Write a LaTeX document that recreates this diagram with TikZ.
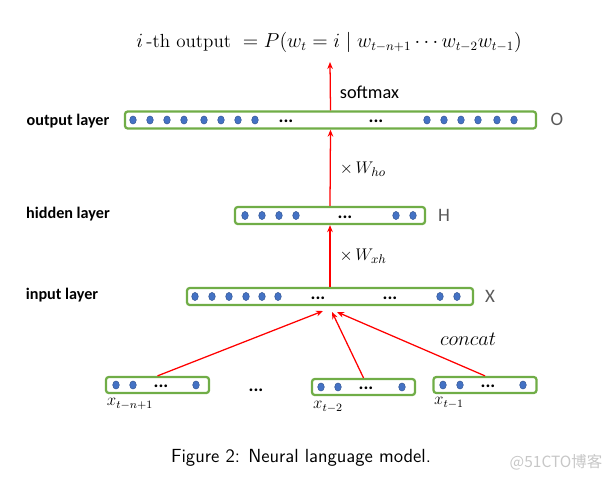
\documentclass[tikz,border=0pt]{standalone}
\usepackage{fontspec}
\usetikzlibrary{arrows.meta,shapes.geometric}
\newfontfamily\carlito{Carlito}
\newfontfamily\cjk{Noto Sans CJK SC}
\definecolor{boxgreen}{RGB}{112,173,71}
\definecolor{dotblue}{RGB}{68,114,196}
\definecolor{dotedge}{RGB}{47,82,143}
\definecolor{labgray}{RGB}{89,89,89}

\begin{document}
\begin{tikzpicture}[x=0.025cm,y=-0.025cm]
        \tikzset{layer/.style={draw=boxgreen,line width=1.6pt,rounded corners=2pt,inner sep=0pt},
            unit/.style={ellipse,fill=dotblue,draw=dotedge,line width=0.3pt,
                minimum width=4.7pt,minimum height=5.8pt,inner sep=0pt},
            gap/.style={font=\carlito\bfseries\fontsize{13}{15}\selectfont,inner sep=0pt,anchor=base},
            layername/.style={font=\carlito\bfseries\fontsize{11.5}{13}\selectfont},
            letter/.style={font=\carlito\fontsize{13.5}{15}\selectfont,text=labgray},
            link/.style={draw=red,line width=0.9pt,-{Stealth[length=5pt,width=4pt]}}}
        \useasboundingbox (0,0) rectangle (616,481);
        % layers
        \node[layer,minimum width=10.275cm,minimum height=0.425cm] (out) at (330.5,120) {};
        \node[layer,minimum width=4.75cm,minimum height=0.425cm] (hid) at (330,215.5) {};
        \node[layer,minimum width=7.15cm,minimum height=0.425cm] (inp) at (330,296.5) {};
        \node[layer,minimum width=2.575cm,minimum height=0.4cm] (xa) at (157.5,385) {};
        \node[layer,minimum width=2.575cm,minimum height=0.4cm] (xb) at (363.5,387) {};
        \node[layer,minimum width=2.575cm,minimum height=0.4cm] (xc) at (485,385) {};
        % units
        \foreach \x in {133,150,167,184,204,221,238,255,427,444,461,478,497,514}
            \node[unit] at (\x,120) {};
        \foreach \x in {245,262,279,296,396,413}
            \node[unit] at (\x,215.5) {};
        \foreach \x in {195,212,229,246,262,278,440,457}
            \node[unit] at (\x,296.5) {};
        \foreach \x in {116,133,196}
            \node[unit] at (\x,385) {};
        \foreach \x in {321,338,402}
            \node[unit] at (\x,387) {};
        \foreach \x in {443,460,523}
            \node[unit] at (\x,385) {};
        \node[gap] at (286,122.5) {...};
        \node[gap] at (376,122.5) {...};
        \node[gap] at (345,218) {...};
        \node[gap] at (318,299) {...};
        \node[gap] at (390,299) {...};
        \node[gap] at (161,387.5) {...};
        \node[gap] at (366,389.5) {...};
        \node[gap] at (488,387.5) {...};
        \node[gap] (skip) at (256,391) {...};
        % names
        \node[layername] (outname) at (68,121) {output layer};
        \node[layername] (hidname) at (68,214) {hidden layer};
        \node[layername] (inpname) at (62,295) {input layer};
        \node[letter] (o) at (557,119) {O};
        \node[letter] (h) at (444,215) {H};
        \node[letter] (x) at (490,296) {X};
        \node[font=\fontsize{11.5}{13}\selectfont] (xaname) at (130,404) {$x_{t-n+1}$};
        \node[font=\fontsize{11.5}{13}\selectfont] (xbname) at (328,407) {$x_{t-2}$};
        \node[font=\fontsize{11.5}{13}\selectfont] (xcname) at (449,403) {$x_{t-1}$};
        % output
        \node[font=\fontsize{13.5}{16}\selectfont] (prob) at (329,42)
            {$i\,\textrm{-th output } = P(w_t = i \mid w_{t-n+1}\cdots w_{t-2}w_{t-1})$};
        \coordinate (top) at (330,62);
        % connectors
        \draw[link] (out.north) -- (top) node[pos=0.38,right=3pt,font=\carlito\fontsize{13}{15}\selectfont] {softmax};
        \draw[link] (hid.north) -- (out.south) node[pos=0.48,right=3pt,font=\fontsize{12.5}{14}\selectfont] {$\times\, W_{ho}$};
        \draw[link] (inp.north) -- (hid.south) node[midway,right=3pt,font=\fontsize{12.5}{14}\selectfont] {$\times\, W_{xh}$};
        \coordinate (ca) at (323,311);
        \coordinate (cb) at (332,312);
        \coordinate (cc) at (337,312);
        \draw[link] (xa.north) -- (ca);
        \draw[link] (xb.north) -- (cb);
        \draw[link] (xc.north) -- (cc);
        \node[font=\fontsize{14}{16}\selectfont] (concat) at (468,339) {$concat$};
        % caption
        \node[font=\sffamily\fontsize{13.5}{16}\selectfont] (caption) at (301,458) {Figure 2: Neural language model.};
        \node[font=\cjk\fontsize{11}{13}\selectfont,text=black!22] (mark) at (556,462) {@51CTO博客};
    \end{tikzpicture}
\end{document}
